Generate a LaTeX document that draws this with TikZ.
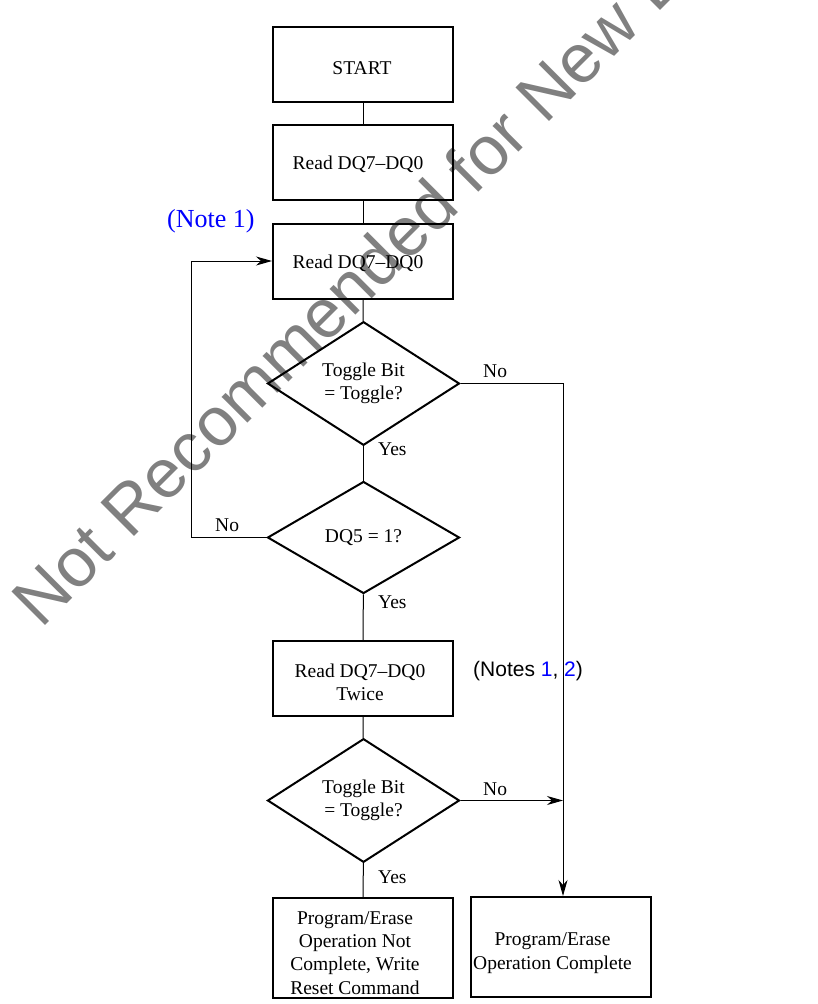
\documentclass[tikz,border=0pt]{standalone}
\usepackage{fontspec}
\setmainfont{Liberation Serif}
\setsansfont{Liberation Sans}
\usetikzlibrary{shapes.geometric,arrows.meta,calc}
\definecolor{wmgray}{RGB}{128,128,128}
\definecolor{noteblue}{RGB}{0,0,255}
\tikzset{
  boxnode/.style={draw=black,line width=2pt,minimum width=180pt,minimum height=75pt,inner sep=0pt},
  boxtext/.style={align=center,inner sep=0pt,font=\fontsize{19.5}{23.3}\selectfont},
  decnode/.style={draw=black,line width=2pt,diamond,minimum width=192pt,minimum height=112pt,inner sep=0pt,align=center,font=\fontsize{19.5}{23.3}\selectfont},
  conn/.style={draw=black,line width=1pt},
  arr/.style={-{Stealth[length=16pt,width=9pt,inset=5pt]}},
  lbl/.style={anchor=base west,inner sep=0pt,font=\fontsize{19.5}{23.3}\selectfont},
}
\begin{document}
\begin{tikzpicture}[x=1pt,y=-1pt]
\useasboundingbox (0,0) rectangle (817,1004);
\begin{scope}
\clip (0,0) rectangle (817,1004);
\node[rotate=45,anchor=base west,inner sep=0pt,text=wmgray,font=\sffamily\fontsize{69}{69}\selectfont] (wm) at (41,630) {Not Recommended for New Designs};
\end{scope}
% boxes
\node[boxnode,label={[name=b1t,boxtext,yshift=-4pt,xshift=-1pt]center:START}] (b1) at (363,64.5) {};
\node[boxnode,label={[name=b2t,boxtext,yshift=-2pt,xshift=-5pt]center:Read DQ7--DQ0}] (b2) at (363,162) {};
\node[boxnode,label={[name=b3t,boxtext,yshift=-2pt,xshift=-5pt]center:Read DQ7--DQ0}] (b3) at (363,261) {};
\node[decnode] (d1) at (363.5,383.5) {Toggle Bit\\= Toggle?};
\node[decnode] (d2) at (363.5,537.5) {DQ5 = 1?};
\node[boxnode,label={[name=b4t,boxtext,yshift=-4pt,xshift=-3pt]center:Read DQ7--DQ0\\Twice}] (b4) at (363,678.5) {};
\node[decnode] (d3) at (363.5,800.5) {Toggle Bit\\= Toggle?};
\node[boxnode,minimum height=100pt,label={[name=b5t,boxtext,yshift=-5pt,xshift=-8pt]center:Program/Erase\\Operation Not\\Complete, Write\\Reset Command}] (b5) at (363,948) {};
\node[boxnode,minimum height=100pt,label={[name=b6t,boxtext,yshift=-6pt,xshift=-8pt]center:Program/Erase\\Operation Complete}] (b6) at (560.5,947) {};
% helper coordinates
\coordinate (rx) at (563,0);
\coordinate (lx) at (191,0);
% connectors
\draw[conn] (b1) -- (b2);
\draw[conn] (b2) -- (b3);
\draw[conn] (b3) -- (d1);
\draw[conn] (d1) -- (d2);
\draw[conn] (d2) -- (b4);
\draw[conn] (b4) -- (d3);
\draw[conn] (d3) -- (b5);
\draw[conn,arr] (d1.east) -| (rx |- b6.north);
\draw[conn,arr] (d3.east) -- (d3.east -| rx);
\draw[conn,arr] (d2.west) -- (lx |- d2.west) |- (b3.west);
% labels
\node[lbl] (n1) at (483,377) {No};
\node[lbl] (y1) at (378,455) {Yes};
\node[lbl] (n2) at (215,531) {No};
\node[lbl] (y2) at (378,608) {Yes};
\node[lbl] (n3) at (483,795) {No};
\node[lbl] (y3) at (378,883) {Yes};
\node[anchor=base west,inner sep=0pt,text=noteblue,font=\fontsize{26}{30}\selectfont] (note1) at (167,227) {(Note 1)};
\node[anchor=base west,inner sep=0pt,font=\sffamily\fontsize{21}{25}\selectfont] (notes) at (473,676) {(Notes \textcolor{noteblue}{1}, \textcolor{noteblue}{2})};
\end{tikzpicture}
\end{document}
